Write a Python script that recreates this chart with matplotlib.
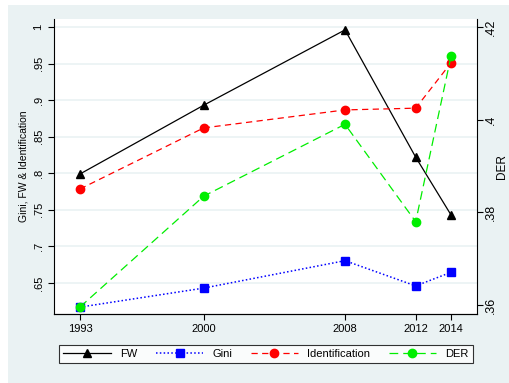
import matplotlib.pyplot as plt
from matplotlib.patches import Rectangle

years = [1993, 2000, 2008, 2012, 2014]
fw = [0.799, 0.893, 0.996, 0.822, 0.743]
gini = [0.617, 0.643, 0.6805, 0.646, 0.6646]
ident = [0.7785, 0.862, 0.8866, 0.889, 0.951]
der = [0.3596, 0.3835, 0.399, 0.378, 0.4137]

left_ticks = [0.65, 0.7, 0.75, 0.8, 0.85, 0.9, 0.95, 1.0]
left_labels = [".65", ".7", ".75", ".8", ".85", ".9", ".95", "1"]
right_ticks = [0.36, 0.38, 0.40, 0.42]
right_labels = [".36", ".38", ".4", ".42"]

plt.rcParams["font.family"] = ["Liberation Sans", "DejaVu Sans"]
bg = "#eaf2f3"

fig = plt.figure(figsize=(5.1, 3.83), dpi=100)
fig.patches.append(Rectangle((8 / 510, 0), 1, 1 - 5 / 383, transform=fig.transFigure,
                             facecolor=bg, edgecolor="none", zorder=-10))

ax = fig.add_axes([54 / 510, 1 - 314 / 383, (477 - 54) / 510, (314 - 19) / 383])
ax2 = ax.twinx()

l1, = ax.plot(years, fw, color="black", lw=0.9, marker="^", ms=6, label="FW")
l2, = ax.plot(years, gini, color="blue", lw=1.1, ls=(0, (1, 1.5)), marker="s", ms=5.5, label="Gini")
l3, = ax.plot(years, ident, color="red", lw=0.9, ls=(0, (5, 3.5)), marker="o", ms=6, label="Identification")
l4, = ax2.plot(years, der, color="#00ee00", lw=0.9, ls=(0, (7, 4)), marker="o", ms=6, label="DER")

ax.set_xlim(1991.53, 2015.47)
ax.set_ylim(0.6076, 1.0109)
ax2.set_ylim(0.3581, 0.4217)

ax.set_xticks(years)
ax.set_xticklabels([str(y) for y in years], fontsize=8)
ax.set_yticks(left_ticks)
ax.set_yticklabels(left_labels, fontsize=8, rotation=90, va="center")
ax2.set_yticks(right_ticks)
ax2.set_yticklabels(right_labels, fontsize=9, rotation=90, va="center")
ax2.tick_params(axis="y", pad=2)
ax.set_ylabel("Gini, FW & Identification", fontsize=7.5)
fig.text(502 / 510, 1 - 167 / 383, "DER", rotation=90, ha="center", va="center", fontsize=8.5)

ax.grid(axis="y", color=bg, lw=1.2)
ax.set_axisbelow(True)
for a in (ax, ax2):
    a.spines["top"].set_visible(False)
    a.tick_params(direction="out", length=4, width=0.8, color="black")
ax.spines["right"].set_visible(False)
ax2.spines["left"].set_visible(False)

leg = fig.legend(handles=[l1, l2, l3, l4], loc="center", ncol=4, mode="expand",
                 bbox_to_anchor=(59 / 510, 1 - 366 / 383, 414 / 510, 24 / 383),
                 fontsize=8, handlelength=4.3, handletextpad=0.8, frameon=True,
                 fancybox=False, edgecolor="black", borderaxespad=0)
leg.get_frame().set_linewidth(0.8)

plt.savefig("out.png", dpi=100)
